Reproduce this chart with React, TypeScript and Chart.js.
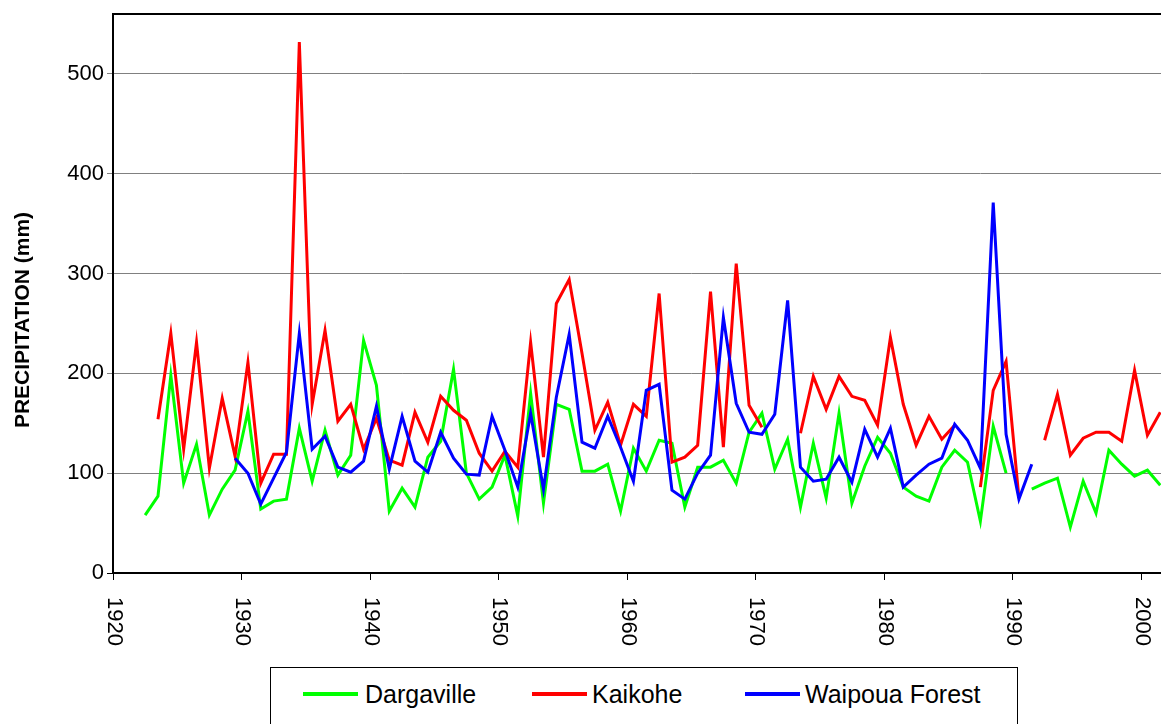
import React, { useEffect, useRef } from "react";
import { Chart, registerables } from "chart.js";

Chart.register(...registerables);

const years = [
  1920, 1921, 1922, 1923, 1924, 1925, 1926, 1927, 1928, 1929,
  1930, 1931, 1932, 1933, 1934, 1935, 1936, 1937, 1938, 1939,
  1940, 1941, 1942, 1943, 1944, 1945, 1946, 1947, 1948, 1949,
  1950, 1951, 1952, 1953, 1954, 1955, 1956, 1957, 1958, 1959,
  1960, 1961, 1962, 1963, 1964, 1965, 1966, 1967, 1968, 1969,
  1970, 1971, 1972, 1973, 1974, 1975, 1976, 1977, 1978, 1979,
  1980, 1981, 1982, 1983, 1984, 1985, 1986, 1987, 1988, 1989,
  1990, 1991, 1992, 1993, 1994, 1995, 1996, 1997, 1998, 1999,
  2000, 2001,
];

const dargaville = [
  null, null, 58, 77, 198, 90, 129, 58, 84, 103,
  162, 64, 72, 74, 145, 92, 143, 98, 118, 233,
  188, 62, 85, 66, 116, 132, 204, 100, 74, 86,
  118, 57, 180, 70, 169, 164, 102, 102, 109, 62,
  125, 102, 133, 130, 66, 106, 106, 113, 90, 141,
  160, 104, 134, 66, 130, 75, 160, 70, 107, 136,
  120, 86, 77, 72, 106, 123, 111, 52, 147, 100,
  null, 84, 90, 95, 46, 92, 60, 123, 109, 97,
  103, 88,
];

const kaikohe = [
  null, null, null, 154, 240, 124, 231, 105, 175, 117,
  211, 90, 119, 119, 532, 169, 243, 152, 169, 124,
  155, 113, 108, 161, 131, 177, 163, 153, 120, 102,
  122, 106, 231, 116, 270, 294, 220, 143, 171, 128,
  169, 157, 280, 111, 116, 128, 282, 126, 310, 168,
  146, null, null, 140, 197, 164, 197, 177, 173, 148,
  236, 169, 128, 157, 134, 148, null, 86, 183, 212,
  75, null, 133, 179, 118, 135, 141, 141, 132, 203,
  138, 161,
];

const waipoua = [
  null, null, null, null, null, null, null, null, null, 115,
  100, 69, 95, 121, 240, 124, 137, 106, 101, 112,
  167, 104, 157, 112, 101, 141, 115, 99, 98, 157,
  123, 86, 160, 84, 176, 239, 131, 125, 157, 126,
  92, 183, 189, 83, 74, 100, 118, 256, 170, 141,
  139, 159, 273, 106, 92, 94, 116, 91, 144, 116,
  145, 86, 98, 109, 115, 149, 133, 105, 371, 139,
  74, 109, null, null, null, null, null, null, null, null,
  null, null,
];

const xTickLabels = [1920, 1930, 1940, 1950, 1960, 1970, 1980, 1990, 2000, 2010];
const yTickLabels = [0, 100, 200, 300, 400, 500];

const seriesNames = ["Dargaville", "Kaikohe", "Waipoua Forest"];
const seriesColors = ["#00FF00", "#FF0000", "#0000FF"];

const CANVAS_W = 1290;
const CANVAS_H = 724;
const PLOT_LEFT = 113;
const PLOT_TOP = 14;
const X_AXIS_H = 151;
const PLOT_RIGHT = 1269.5;

const FONT = '"Liberation Sans", Arial, sans-serif';

const toPoints = (vals: (number | null)[]) =>
  years.map((yr, i) => ({ x: yr + 0.5, y: vals[i] }));

const decorPlugin = {
  id: "decor",
  afterDraw(chart: any) {
    const { ctx, chartArea, scales } = chart;
    ctx.save();
    ctx.strokeStyle = "#000";
    ctx.lineWidth = 2;
    ctx.beginPath();
    ctx.moveTo(chartArea.left - 1, chartArea.top);
    ctx.lineTo(chartArea.right, chartArea.top);
    ctx.stroke();

    ctx.fillStyle = "#000";
    ctx.font = `22px ${FONT}`;
    ctx.textAlign = "left";
    ctx.textBaseline = "middle";
    for (const v of xTickLabels) {
      const x = scales.x.getPixelForValue(v);
      ctx.save();
      ctx.translate(x + 1, chartArea.bottom + 24);
      ctx.rotate(Math.PI / 2);
      ctx.fillText(String(v), 0, 0);
      ctx.restore();
    }

    ctx.font = `bold 21px ${FONT}`;
    ctx.textAlign = "center";
    ctx.textBaseline = "middle";
    ctx.translate(23, 320);
    ctx.rotate(-Math.PI / 2);
    ctx.fillText("PRECIPITATION (mm)", 0, 0);
    ctx.restore();
  },
};

export default function App() {
  const canvasRef = useRef<HTMLCanvasElement | null>(null);

  useEffect(() => {
    const canvas = canvasRef.current;
    if (!canvas) return;
    const data = [dargaville, kaikohe, waipoua];
    const chart = new Chart(canvas, {
      type: "line",
      data: {
        datasets: data.map((vals, i) => ({
          label: seriesNames[i],
          data: toPoints(vals),
          borderColor: seriesColors[i],
          backgroundColor: seriesColors[i],
          borderWidth: 3,
          pointRadius: 0,
          tension: 0,
          spanGaps: false,
          fill: false,
          order: 3 - i,
        })),
      },
      options: {
        responsive: false,
        animation: false,
        devicePixelRatio: 1,
        layout: {
          padding: { left: 0, top: PLOT_TOP, right: CANVAS_W - PLOT_RIGHT, bottom: 0 },
        },
        plugins: {
          legend: { display: false },
          tooltip: { enabled: false },
        },
        scales: {
          x: {
            type: "linear",
            min: 1920,
            max: 2010,
            afterBuildTicks: (s: any) => {
              s.ticks = xTickLabels.map((v) => ({ value: v }));
            },
            afterFit: (s: any) => {
              s.height = X_AXIS_H;
              s.paddingLeft = 0;
              s.paddingRight = 0;
            },
            ticks: { display: false },
            grid: {
              drawOnChartArea: false,
              drawTicks: true,
              tickLength: 7,
              color: "#000",
              lineWidth: 1,
            },
            border: { display: true, color: "#000", width: 2 },
          },
          y: {
            type: "linear",
            min: 0,
            max: 560,
            afterBuildTicks: (s: any) => {
              s.ticks = yTickLabels.map((v) => ({ value: v }));
            },
            afterFit: (s: any) => {
              s.width = PLOT_LEFT;
              s.paddingTop = 0;
              s.paddingBottom = 0;
            },
            ticks: {
              color: "#000",
              font: { family: FONT, size: 22 },
              padding: 3,
            },
            grid: {
              color: (c: any) => (c.tick && c.tick.value === 0 ? "#000" : "#808080"),
              lineWidth: 1,
              drawTicks: true,
              tickLength: 6,
            },
            border: { display: true, color: "#000", width: 2 },
          },
        },
      },
      plugins: [decorPlugin],
    });
    return () => chart.destroy();
  }, []);

  const legendItems = [
    { line: 303, text: 365 },
    { line: 532, text: 592 },
    { line: 745, text: 805 },
  ];

  return (
    <div
      style={{
        position: "absolute",
        left: 0,
        top: 0,
        width: 1161,
        height: 724,
        overflow: "hidden",
        background: "#fff",
      }}
    >
      <canvas
        ref={canvasRef}
        width={CANVAS_W}
        height={CANVAS_H}
        style={{ width: CANVAS_W, height: CANVAS_H, display: "block" }}
      />
      <div
        style={{
          position: "absolute",
          left: 270,
          top: 667,
          width: 748,
          height: 90,
          border: "1px solid #000",
          boxSizing: "border-box",
          background: "#fff",
        }}
      />
      {legendItems.map((it, i) => (
        <React.Fragment key={seriesNames[i]}>
          <div
            style={{
              position: "absolute",
              left: it.line,
              top: 692,
              width: 55,
              height: 4,
              background: seriesColors[i],
            }}
          />
          <span
            style={{
              position: "absolute",
              left: it.text,
              top: 694,
              transform: "translateY(-50%)",
              fontFamily: FONT,
              fontSize: 25,
              lineHeight: 1,
              color: "#000",
              whiteSpace: "nowrap",
            }}
          >
            {seriesNames[i]}
          </span>
        </React.Fragment>
      ))}
    </div>
  );
}
